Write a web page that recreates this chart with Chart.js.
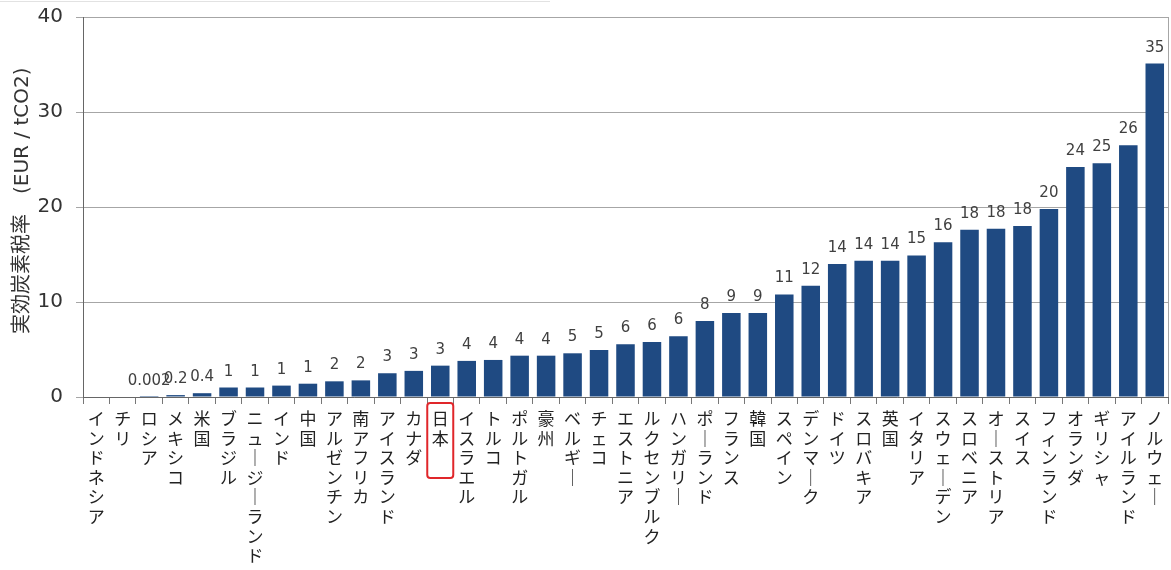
<!DOCTYPE html>
<html>
<head>
<meta charset="utf-8">
<script src="https://cdn.jsdelivr.net/npm/chart.js@4/dist/chart.umd.min.js"></script>
<style>
html,body{margin:0;padding:0;background:#fff;}
#wrap{width:1171px;height:570px;position:relative;}
</style>
</head>
<body>
<div id="wrap"><canvas id="c" width="1171" height="570"></canvas></div>
<script>
const categories = ['インドネシア','チリ','ロシア','メキシコ','米国','ブラジル','ニュージーランド','インド','中国','アルゼンチン','南アフリカ','アイスランド','カナダ','日本','イスラエル','トルコ','ポルトガル','豪州','ベルギー','チェコ','エストニア','ルクセンブルク','ハンガリー','ポーランド','フランス','韓国','スペイン','デンマーク','ドイツ','スロバキア','英国','イタリア','スウェーデン','スロベニア','オーストリア','スイス','フィンランド','オランダ','ギリシャ','アイルランド','ノルウェー'];
const values = [0,0,0.002,0.2,0.4,1.0,1.0,1.2,1.4,1.65,1.75,2.5,2.75,3.3,3.8,3.9,4.35,4.35,4.6,4.95,5.55,5.8,6.4,8.0,8.85,8.85,10.8,11.7,14.0,14.35,14.35,14.9,16.3,17.6,17.7,18.0,19.8,24.2,24.6,26.5,35.1];
const valueLabels = ['','','0.002','0.2','0.4','1','1','1','1','2','2','3','3','3','4','4','4','4','5','5','6','6','6','8','9','9','11','12','14','14','14','15','16','18','18','18','20','24','25','26','35'];
const yTicks = [0,10,20,30,40];
const yTitle = '実効炭素税率　(EUR / tCO2)';
const highlighted = '日本';

function toVertical(s){
  return Array.from(s).map(ch => ch === 'ー' ? '｜' : ch);
}

const extras = {
  id: 'extras',
  afterDatasetsDraw(chart){
    const ctx = chart.ctx;
    const meta = chart.getDatasetMeta(0);
    ctx.save();
    ctx.font = '15px "DejaVu Sans"';
    ctx.fillStyle = '#404040';
    ctx.textAlign = 'center';
    ctx.textBaseline = 'alphabetic';
    meta.data.forEach((bar, i) => {
      const t = valueLabels[i];
      if (!t) return;
      ctx.fillText(t, bar.x, bar.y - 12);
    });
    ctx.restore();
  },
  afterDraw(chart){
    const ctx = chart.ctx;
    const a = chart.chartArea;
    ctx.save();
    // plot area right border
    ctx.strokeStyle = '#a6a6a6';
    ctx.lineWidth = 1;
    ctx.beginPath();
    ctx.moveTo(a.right + 0.5, a.top);
    ctx.lineTo(a.right + 0.5, a.bottom);
    ctx.stroke();
    // faint top line
    ctx.strokeStyle = '#e2e2e2';
    ctx.beginPath();
    ctx.moveTo(0, 1.5);
    ctx.lineTo(550, 1.5);
    ctx.stroke();
    // y axis title
    ctx.save();
    ctx.translate(28, 334);
    ctx.rotate(-Math.PI / 2);
    ctx.font = '20px "DejaVu Sans", "Noto Sans CJK JP"';
    ctx.fillStyle = '#333';
    ctx.textAlign = 'left';
    ctx.textBaseline = 'alphabetic';
    ctx.fillText(yTitle, 0, 0);
    ctx.restore();
    // highlight box
    const idx = categories.indexOf(highlighted);
    const x = chart.scales.x.getPixelForValue(idx);
    const w = 26, top = a.bottom + 6, h = 75, r = 3;
    ctx.strokeStyle = '#e0262a';
    ctx.lineWidth = 2;
    ctx.beginPath();
    ctx.roundRect(x - w / 2, top, w, h, r);
    ctx.stroke();
    ctx.restore();
  }
};

new Chart(document.getElementById('c'), {
  type: 'bar',
  data: {
    labels: categories,
    datasets: [{
      data: values,
      backgroundColor: '#1f4a82',
      borderWidth: 0,
      barPercentage: 0.7,
      categoryPercentage: 1.0
    }]
  },
  options: {
    responsive: false,
    animation: false,
    devicePixelRatio: 1,
    layout: { padding: { top: 17, right: 3, left: 0, bottom: 0 } },
    plugins: { legend: { display: false }, tooltip: { enabled: false } },
    scales: {
      x: {
        grid: { display: true, drawOnChartArea: false, drawTicks: true, tickLength: 7, color: '#777', offset: true },
        border: { display: true, color: '#666', width: 1 },
        ticks: {
          autoSkip: false, maxRotation: 0, minRotation: 0, padding: 5,
          color: '#222',
          font: { family: '"Noto Sans CJK JP"', size: 17, lineHeight: 1.15 },
          callback: (v, i) => toVertical(categories[i])
        },
        afterFit(scale){ scale.height = 173; }
      },
      y: {
        min: 0, max: 40,
        afterBuildTicks(scale){ scale.ticks = yTicks.map(v => ({ value: v })); },
        grid: { color: '#a6a6a6', tickLength: 7, drawTicks: true },
        border: { display: true, color: '#666', width: 1 },
        ticks: {
          padding: 13, color: '#333',
          font: { family: '"DejaVu Sans"', size: 20 }
        },
        title: { display: false },
        afterFit(scale){ scale.width = 83; scale.paddingTop = 0; scale.paddingBottom = 0; }
      }
    }
  },
  plugins: [extras]
});
</script>
</body>
</html>
